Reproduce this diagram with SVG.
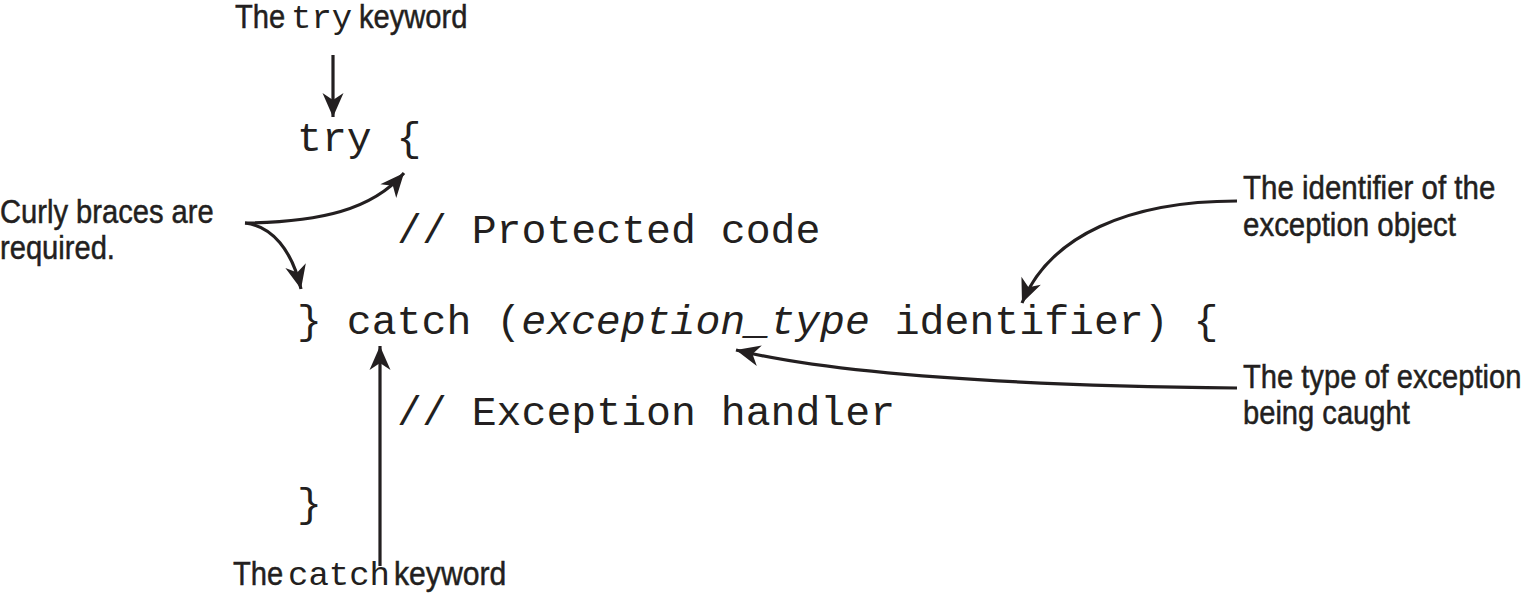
<svg xmlns="http://www.w3.org/2000/svg" width="1524" height="594" viewBox="0 0 1524 594">
<style>
.code{font-family:"Liberation Mono","Courier New",monospace;font-size:41.5px;fill:#231f20}
.lbl{font-family:"Liberation Sans",Arial,sans-serif;font-size:33.5px;fill:#231f20;stroke:#231f20;stroke-width:0.5}
.mono{font-family:"Liberation Mono","Courier New",monospace;font-size:34px;fill:#231f20}
.conn{fill:none;stroke:#231f20;stroke-width:3.2;marker-end:url(#ah)}
</style>
<defs>
<marker id="ah" markerUnits="userSpaceOnUse" viewBox="-26 -13 28 26" refX="0" refY="0" markerWidth="28" markerHeight="26" orient="auto">
<path d="M0,0 L-24,-10.5 L-17,0 L-24,10.5 Z" fill="#231f20"/>
</marker>
</defs>
<rect width="1524" height="594" fill="#ffffff"/>
<g id="code">
<text class="code" x="297" y="151">try {</text>
<text class="code" x="397" y="243">// Protected code</text>
<text class="code" x="297" y="334">} catch (<tspan font-style="italic">exception_type</tspan> identifier) {</text>
<text class="code" x="397" y="425">// Exception handler</text>
<text class="code" x="297" y="517">}</text>
</g>
<g id="label-try">
<text class="lbl" transform="translate(235,28) scale(0.87,1)">The</text>
<text class="mono" x="291" y="28">try</text>
<text class="lbl" transform="translate(359,28) scale(0.87,1)">keyword</text>
</g>
<g id="label-braces">
<text class="lbl" transform="translate(0,223) scale(0.87,1)">Curly braces are</text>
<text class="lbl" transform="translate(0,259) scale(0.87,1)">required.</text>
</g>
<g id="label-identifier">
<text class="lbl" transform="translate(1243,199) scale(0.88,1)">The identifier of the</text>
<text class="lbl" transform="translate(1243,236) scale(0.88,1)">exception object</text>
</g>
<g id="label-type">
<text class="lbl" transform="translate(1243,388) scale(0.87,1)">The type of exception</text>
<text class="lbl" transform="translate(1243,424) scale(0.87,1)">being caught</text>
</g>
<g id="label-catch">
<text class="lbl" transform="translate(233,585) scale(0.87,1)">The</text>
<text class="mono" x="288" y="585">catch</text>
<text class="lbl" transform="translate(394,585) scale(0.9,1)">keyword</text>
</g>
<g id="connectors">
<path class="conn" d="M333,55 L333,117"/>
<path class="conn" d="M245,223 C320,222 372,210 404,173"/>
<path class="conn" d="M245,223 C272,226 292,250 301,289"/>
<path class="conn" d="M380,566 L380,346"/>
<path class="conn" d="M1237,201 C1130,201 1050,235 1022,303"/>
<path class="conn" d="M1237,388 C1050,386 850,378 736,350"/>
</g>
</svg>
